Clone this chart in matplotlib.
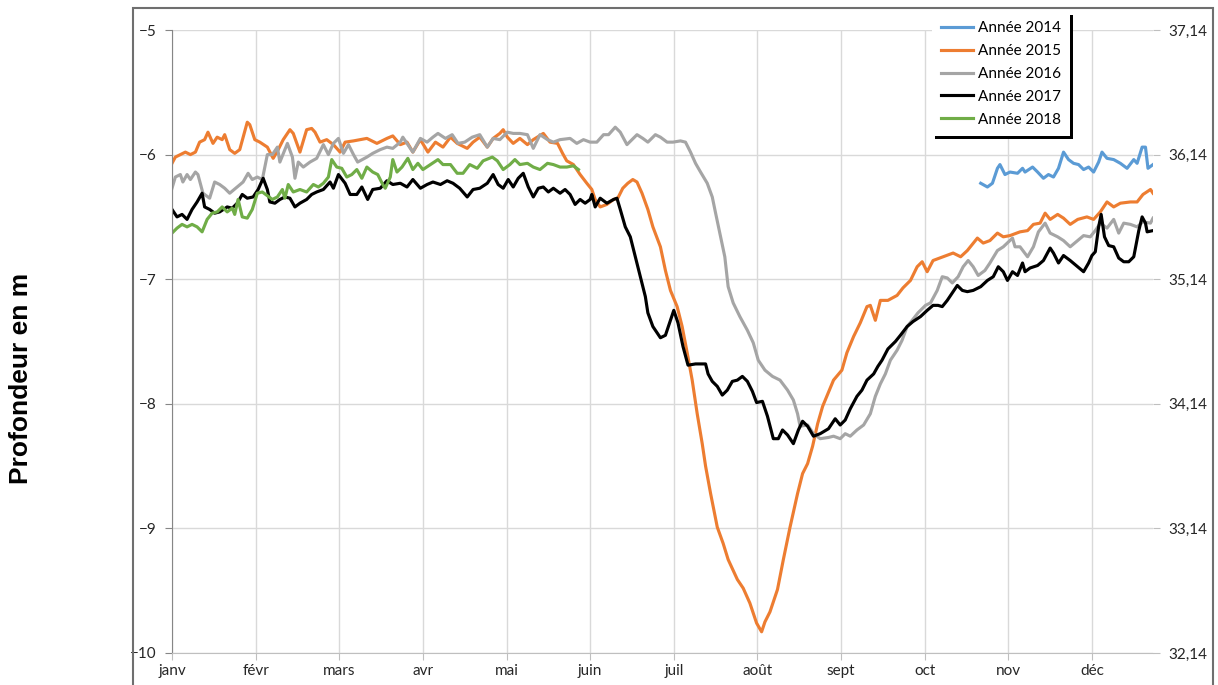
import matplotlib.pyplot as plt
from matplotlib.patches import Rectangle

# mois du relevé (axe X en mois écoulés depuis le 1er janvier)
mois = ['janv', 'févr', 'mars', 'avr', 'mai', 'juin',
        'juil', 'août', 'sept', 'oct', 'nov', 'déc']
prof_ticks = [-5, -6, -7, -8, -9, -10]
decalage_cote = 42.14   # cote NGF = profondeur + 42,14

# (mois, profondeur en m)
annee_2014 = [
    (9.67, -6.23), (9.75, -6.26), (9.81, -6.23), (9.87, -6.11), (9.90, -6.08),
    (9.96, -6.16), (10.02, -6.14), (10.11, -6.15), (10.17, -6.11), (10.20, -6.14),
    (10.29, -6.10), (10.35, -6.14), (10.42, -6.19), (10.48, -6.16), (10.54, -6.18),
    (10.60, -6.11), (10.66, -5.98), (10.72, -6.04), (10.78, -6.07), (10.84, -6.08),
    (10.90, -6.12), (10.96, -6.10), (11.02, -6.14), (11.08, -6.06), (11.12, -5.98),
    (11.18, -6.03), (11.26, -6.04), (11.34, -6.07), (11.42, -6.11), (11.50, -6.04),
    (11.54, -6.07), (11.60, -5.94), (11.64, -5.94), (11.67, -6.11), (11.73, -6.08),
]

annee_2015 = [
    (0.00, -6.07), (0.04, -6.02), (0.10, -6.00), (0.16, -5.98), (0.22, -6.00),
    (0.28, -5.98), (0.33, -5.90), (0.39, -5.88), (0.43, -5.82), (0.49, -5.91),
    (0.54, -5.86), (0.60, -5.88), (0.63, -5.84), (0.69, -5.96), (0.75, -5.99),
    (0.81, -5.96), (0.90, -5.74), (0.93, -5.76), (0.99, -5.88), (1.05, -5.90),
    (1.14, -5.94), (1.21, -6.03), (1.27, -5.96), (1.33, -5.88), (1.41, -5.80),
    (1.45, -5.83), (1.53, -5.98), (1.61, -5.80), (1.67, -5.79), (1.71, -5.82),
    (1.77, -5.90), (1.85, -5.88), (1.93, -5.92), (2.01, -5.98), (2.07, -5.90),
    (2.17, -5.89), (2.25, -5.88), (2.33, -5.87), (2.45, -5.91), (2.57, -5.87),
    (2.64, -5.85), (2.73, -5.92), (2.81, -5.90), (2.88, -5.98), (2.97, -5.88),
    (3.06, -5.98), (3.15, -5.90), (3.24, -5.94), (3.33, -5.86), (3.41, -5.91),
    (3.53, -5.95), (3.60, -5.90), (3.68, -5.86), (3.77, -5.94), (3.84, -5.87),
    (3.92, -5.83), (3.96, -5.80), (4.01, -5.86), (4.08, -5.91), (4.16, -5.87),
    (4.25, -5.92), (4.32, -5.88), (4.44, -5.83), (4.52, -5.90), (4.61, -5.91),
    (4.67, -5.99), (4.72, -6.05), (4.80, -6.08), (4.88, -6.16), (4.96, -6.23),
    (5.02, -6.28), (5.06, -6.36), (5.12, -6.42), (5.20, -6.40), (5.28, -6.36),
    (5.33, -6.35), (5.39, -6.27), (5.45, -6.23), (5.51, -6.20), (5.56, -6.22),
    (5.62, -6.31), (5.69, -6.44), (5.75, -6.58), (5.84, -6.74), (5.90, -6.93),
    (5.96, -7.09), (6.04, -7.22), (6.10, -7.38), (6.16, -7.59), (6.22, -7.81),
    (6.28, -8.08), (6.34, -8.32), (6.38, -8.50), (6.44, -8.72), (6.52, -8.99),
    (6.59, -9.12), (6.65, -9.25), (6.76, -9.41), (6.83, -9.48), (6.91, -9.60),
    (6.99, -9.76), (7.05, -9.83), (7.09, -9.75), (7.15, -9.67), (7.24, -9.49),
    (7.31, -9.25), (7.39, -8.99), (7.48, -8.72), (7.54, -8.56), (7.60, -8.48),
    (7.66, -8.34), (7.72, -8.16), (7.78, -8.02), (7.83, -7.94), (7.91, -7.81),
    (8.01, -7.73), (8.07, -7.59), (8.15, -7.46), (8.23, -7.35), (8.31, -7.22),
    (8.35, -7.21), (8.41, -7.33), (8.47, -7.17), (8.56, -7.17), (8.67, -7.13),
    (8.74, -7.07), (8.83, -7.01), (8.91, -6.90), (8.97, -6.86), (9.03, -6.94),
    (9.10, -6.85), (9.22, -6.82), (9.34, -6.79), (9.43, -6.82), (9.51, -6.77),
    (9.63, -6.67), (9.70, -6.71), (9.78, -6.69), (9.87, -6.63), (9.94, -6.66),
    (10.02, -6.65), (10.14, -6.62), (10.23, -6.61), (10.30, -6.56), (10.38, -6.55),
    (10.44, -6.47), (10.50, -6.52), (10.59, -6.48), (10.66, -6.51), (10.74, -6.56),
    (10.83, -6.52), (10.94, -6.50), (11.02, -6.52), (11.10, -6.46), (11.18, -6.38),
    (11.26, -6.42), (11.34, -6.39), (11.46, -6.38), (11.54, -6.38), (11.61, -6.32),
    (11.70, -6.28), (11.73, -6.31),
]

annee_2016 = [
    (0.00, -6.27), (0.04, -6.18), (0.10, -6.16), (0.13, -6.22), (0.18, -6.16),
    (0.22, -6.20), (0.28, -6.14), (0.31, -6.16), (0.37, -6.31), (0.45, -6.35),
    (0.51, -6.22), (0.57, -6.24), (0.63, -6.27), (0.69, -6.31), (0.78, -6.26),
    (0.85, -6.22), (0.91, -6.15), (0.96, -6.20), (1.02, -6.18), (1.08, -6.20),
    (1.14, -6.00), (1.20, -6.00), (1.26, -5.94), (1.29, -6.06), (1.38, -5.91),
    (1.44, -6.02), (1.47, -6.19), (1.51, -6.06), (1.57, -6.10), (1.65, -6.06),
    (1.73, -6.03), (1.81, -5.92), (1.87, -6.00), (1.93, -5.91), (1.99, -5.87),
    (2.05, -5.99), (2.11, -5.92), (2.17, -6.00), (2.22, -6.06), (2.33, -6.02),
    (2.40, -5.99), (2.49, -5.96), (2.57, -5.94), (2.64, -5.95), (2.73, -5.90),
    (2.76, -5.86), (2.82, -5.92), (2.88, -5.98), (2.97, -5.87), (3.05, -5.90),
    (3.12, -5.86), (3.18, -5.83), (3.27, -5.87), (3.35, -5.84), (3.42, -5.91),
    (3.50, -5.90), (3.59, -5.86), (3.68, -5.84), (3.77, -5.94), (3.84, -5.87),
    (3.92, -5.88), (4.01, -5.82), (4.08, -5.83), (4.16, -5.83), (4.25, -5.84),
    (4.32, -5.95), (4.40, -5.84), (4.49, -5.88), (4.56, -5.90), (4.64, -5.88),
    (4.76, -5.87), (4.84, -5.91), (4.92, -5.88), (5.00, -5.90), (5.08, -5.90),
    (5.16, -5.84), (5.22, -5.84), (5.30, -5.78), (5.36, -5.82), (5.44, -5.92),
    (5.50, -5.88), (5.56, -5.84), (5.63, -5.87), (5.69, -5.90), (5.78, -5.84),
    (5.84, -5.86), (5.92, -5.90), (5.99, -5.90), (6.08, -5.89), (6.14, -5.90),
    (6.20, -5.98), (6.26, -6.07), (6.32, -6.14), (6.40, -6.23), (6.46, -6.34),
    (6.50, -6.47), (6.56, -6.66), (6.61, -6.82), (6.65, -7.06), (6.71, -7.19),
    (6.79, -7.30), (6.88, -7.41), (6.95, -7.51), (7.01, -7.65), (7.09, -7.73),
    (7.18, -7.78), (7.27, -7.81), (7.36, -7.89), (7.43, -7.97), (7.48, -8.08),
    (7.51, -8.18), (7.60, -8.17), (7.67, -8.24), (7.75, -8.28), (7.85, -8.27),
    (7.91, -8.26), (7.99, -8.28), (8.05, -8.24), (8.11, -8.26), (8.19, -8.21),
    (8.27, -8.17), (8.35, -8.08), (8.41, -7.94), (8.47, -7.84), (8.53, -7.76),
    (8.59, -7.65), (8.67, -7.57), (8.73, -7.49), (8.79, -7.38), (8.85, -7.33),
    (8.92, -7.27), (9.01, -7.21), (9.07, -7.19), (9.15, -7.09), (9.21, -6.98),
    (9.27, -6.99), (9.33, -7.03), (9.40, -6.98), (9.46, -6.90), (9.52, -6.85),
    (9.58, -6.90), (9.64, -6.97), (9.72, -6.93), (9.78, -6.87), (9.87, -6.77),
    (9.94, -6.74), (10.05, -6.67), (10.08, -6.74), (10.14, -6.74), (10.23, -6.82),
    (10.30, -6.74), (10.36, -6.62), (10.44, -6.55), (10.50, -6.63), (10.59, -6.66),
    (10.66, -6.69), (10.74, -6.74), (10.83, -6.69), (10.90, -6.65), (10.98, -6.66),
    (11.04, -6.61), (11.10, -6.55), (11.18, -6.59), (11.26, -6.52), (11.32, -6.63),
    (11.38, -6.55), (11.46, -6.56), (11.54, -6.58), (11.61, -6.54), (11.70, -6.55),
    (11.73, -6.51),
]

annee_2017 = [
    (0.00, -6.44), (0.06, -6.50), (0.12, -6.48), (0.18, -6.52), (0.24, -6.44),
    (0.30, -6.38), (0.36, -6.31), (0.39, -6.42), (0.45, -6.44), (0.51, -6.47),
    (0.57, -6.46), (0.66, -6.42), (0.72, -6.43), (0.78, -6.39), (0.84, -6.32),
    (0.90, -6.35), (0.97, -6.34), (1.03, -6.28), (1.09, -6.19), (1.14, -6.28),
    (1.17, -6.38), (1.23, -6.39), (1.29, -6.36), (1.35, -6.34), (1.41, -6.35),
    (1.47, -6.42), (1.53, -6.39), (1.61, -6.36), (1.67, -6.32), (1.73, -6.30),
    (1.81, -6.28), (1.89, -6.22), (1.93, -6.27), (1.99, -6.16), (2.07, -6.23),
    (2.13, -6.32), (2.21, -6.32), (2.27, -6.26), (2.34, -6.36), (2.40, -6.28),
    (2.49, -6.27), (2.57, -6.21), (2.64, -6.24), (2.73, -6.23), (2.81, -6.26),
    (2.88, -6.20), (2.97, -6.27), (3.05, -6.24), (3.12, -6.22), (3.21, -6.24),
    (3.29, -6.21), (3.36, -6.23), (3.44, -6.27), (3.53, -6.34), (3.60, -6.28),
    (3.68, -6.27), (3.77, -6.23), (3.84, -6.16), (3.90, -6.24), (3.96, -6.27),
    (4.02, -6.20), (4.08, -6.26), (4.14, -6.19), (4.20, -6.15), (4.26, -6.26),
    (4.32, -6.34), (4.38, -6.27), (4.44, -6.26), (4.50, -6.30), (4.56, -6.27),
    (4.64, -6.31), (4.70, -6.28), (4.76, -6.32), (4.82, -6.40), (4.88, -6.36),
    (4.94, -6.39), (5.00, -6.36), (5.02, -6.32), (5.06, -6.42), (5.12, -6.35),
    (5.20, -6.39), (5.28, -6.36), (5.32, -6.35), (5.36, -6.44), (5.42, -6.58),
    (5.48, -6.66), (5.54, -6.82), (5.60, -6.98), (5.66, -7.14), (5.69, -7.27),
    (5.75, -7.38), (5.84, -7.47), (5.90, -7.45), (5.96, -7.33), (6.00, -7.25),
    (6.05, -7.35), (6.11, -7.54), (6.17, -7.69), (6.26, -7.68), (6.38, -7.68),
    (6.41, -7.76), (6.46, -7.82), (6.52, -7.86), (6.58, -7.93), (6.64, -7.89),
    (6.70, -7.82), (6.76, -7.81), (6.82, -7.78), (6.88, -7.82), (6.94, -7.90),
    (6.99, -7.99), (7.06, -7.98), (7.12, -8.10), (7.19, -8.28), (7.25, -8.28),
    (7.30, -8.21), (7.36, -8.25), (7.43, -8.32), (7.49, -8.21), (7.54, -8.14),
    (7.60, -8.18), (7.67, -8.26), (7.75, -8.24), (7.85, -8.20), (7.93, -8.12),
    (7.99, -8.17), (8.05, -8.13), (8.11, -8.04), (8.19, -7.94), (8.25, -7.89),
    (8.31, -7.81), (8.39, -7.76), (8.44, -7.70), (8.49, -7.65), (8.56, -7.56),
    (8.65, -7.50), (8.71, -7.45), (8.79, -7.38), (8.86, -7.34), (8.95, -7.30),
    (9.03, -7.25), (9.10, -7.21), (9.16, -7.21), (9.21, -7.22), (9.27, -7.17),
    (9.33, -7.11), (9.39, -7.05), (9.45, -7.09), (9.51, -7.10), (9.58, -7.09),
    (9.67, -7.06), (9.75, -7.01), (9.82, -6.98), (9.88, -6.90), (9.94, -6.94),
    (9.99, -7.01), (10.05, -6.94), (10.11, -6.97), (10.17, -6.87), (10.20, -6.94),
    (10.26, -6.91), (10.35, -6.89), (10.42, -6.85), (10.50, -6.75), (10.54, -6.79),
    (10.60, -6.87), (10.66, -6.81), (10.74, -6.85), (10.83, -6.90), (10.90, -6.94),
    (10.96, -6.87), (11.00, -6.81), (11.04, -6.78), (11.08, -6.58), (11.11, -6.48),
    (11.15, -6.66), (11.20, -6.73), (11.26, -6.74), (11.32, -6.83), (11.38, -6.86),
    (11.44, -6.86), (11.50, -6.82), (11.56, -6.61), (11.60, -6.50), (11.64, -6.55),
    (11.66, -6.62), (11.73, -6.61),
]

annee_2018 = [
    (0.00, -6.63), (0.06, -6.59), (0.12, -6.56), (0.18, -6.58), (0.24, -6.56),
    (0.30, -6.58), (0.36, -6.62), (0.42, -6.52), (0.48, -6.47), (0.54, -6.46),
    (0.60, -6.42), (0.66, -6.46), (0.72, -6.43), (0.75, -6.48), (0.79, -6.36),
    (0.84, -6.50), (0.90, -6.51), (0.96, -6.44), (1.02, -6.31), (1.08, -6.30),
    (1.14, -6.33), (1.20, -6.36), (1.26, -6.34), (1.32, -6.28), (1.35, -6.35),
    (1.39, -6.24), (1.45, -6.30), (1.53, -6.28), (1.61, -6.30), (1.69, -6.24),
    (1.75, -6.26), (1.81, -6.23), (1.87, -6.18), (1.91, -6.04), (1.97, -6.10),
    (2.03, -6.11), (2.09, -6.18), (2.15, -6.16), (2.21, -6.12), (2.27, -6.19),
    (2.33, -6.10), (2.40, -6.14), (2.46, -6.16), (2.52, -6.24), (2.55, -6.27),
    (2.61, -6.18), (2.64, -6.04), (2.69, -6.14), (2.75, -6.10), (2.82, -6.03),
    (2.88, -6.12), (2.94, -6.07), (3.00, -6.12), (3.09, -6.08), (3.18, -6.04),
    (3.24, -6.08), (3.33, -6.08), (3.41, -6.15), (3.48, -6.15), (3.56, -6.08),
    (3.65, -6.11), (3.72, -6.05), (3.83, -6.02), (3.89, -6.05), (3.96, -6.12),
    (4.04, -6.08), (4.10, -6.04), (4.16, -6.08), (4.25, -6.07), (4.32, -6.10),
    (4.40, -6.12), (4.49, -6.07), (4.56, -6.08), (4.64, -6.10), (4.72, -6.10),
    (4.80, -6.09), (4.86, -6.12),
]

series = [
    ('Année 2014', annee_2014, '#5b9bd5'),
    ('Année 2015', annee_2015, '#ed7d31'),
    ('Année 2016', annee_2016, '#a5a5a5'),
    ('Année 2017', annee_2017, '#000000'),
    ('Année 2018', annee_2018, '#70ad47'),
]

plt.rcParams['font.family'] = ['Lato', 'DejaVu Sans']

fig = plt.figure(figsize=(12.18, 6.85), dpi=100)
ax = fig.add_axes([172 / 1218, 1 - 653 / 685, (1153 - 172) / 1218, 623 / 685])

for nom, pts, coul in series:
    x = [p[0] for p in pts]
    y = [p[1] for p in pts]
    ax.plot(x, y, color=coul, lw=2.25, label=nom, solid_joinstyle='round')

ax.set_xlim(0, 11.73)
ax.set_ylim(-10, -5)
ax.set_xticks(range(len(mois)))
ax.set_xticklabels(mois)
ax.set_yticks(prof_ticks)
ax.grid(color='#d9d9d9', lw=1.0)
ax.set_axisbelow(True)

for s in ['top', 'right']:
    ax.spines[s].set_visible(False)
ax.spines['left'].set_color('#868686')
ax.spines['bottom'].set_color('#bfbfbf')
ax.tick_params(axis='y', length=5, color='#868686', pad=6, labelsize=11, labelcolor='#262626')
ax.tick_params(axis='x', length=5, color='#bfbfbf', pad=3, labelsize=11, labelcolor='#262626')

# axe secondaire : cote du niveau d'eau
ax2 = ax.twinx()
ax2.set_ylim(-10 + decalage_cote, -5 + decalage_cote)
cotes = [v + decalage_cote for v in prof_ticks]
ax2.set_yticks(cotes)
ax2.set_yticklabels([f'{c:.2f}'.replace('.', ',') for c in cotes])
for s in ax2.spines.values():
    s.set_visible(False)
ax2.tick_params(axis='y', length=5, color='#bfbfbf', pad=6, labelsize=11, labelcolor='#262626')

fig.text(21 / 1218, 1 - 378 / 685, 'Profondeur en m', rotation=90,
         fontsize=19, fontweight='bold', family='Liberation Sans',
         ha='center', va='center')

# cadre du graphique
fig.add_artist(Rectangle((133 / 1218, -0.1), (1213 - 133) / 1218, 1 - 8 / 685 + 0.1,
                         transform=fig.transFigure, fill=False,
                         edgecolor='#6f6f6f', lw=1.5))

leg = ax.legend(loc='upper left', bbox_to_anchor=(932 / 1218, 1 - 12 / 685),
                bbox_transform=fig.transFigure, borderaxespad=0,
                fontsize=11, frameon=True, fancybox=False,
                facecolor='white', edgecolor='white', framealpha=1,
                shadow={'color': 'black', 'alpha': 1},
                handlelength=2.1, handletextpad=0.3, labelspacing=0.58,
                borderpad=0.6)
leg.get_frame().set_linewidth(0)
for l in leg.get_lines():
    l.set_linewidth(2.25)

fig.savefig('out.png', dpi=100)
